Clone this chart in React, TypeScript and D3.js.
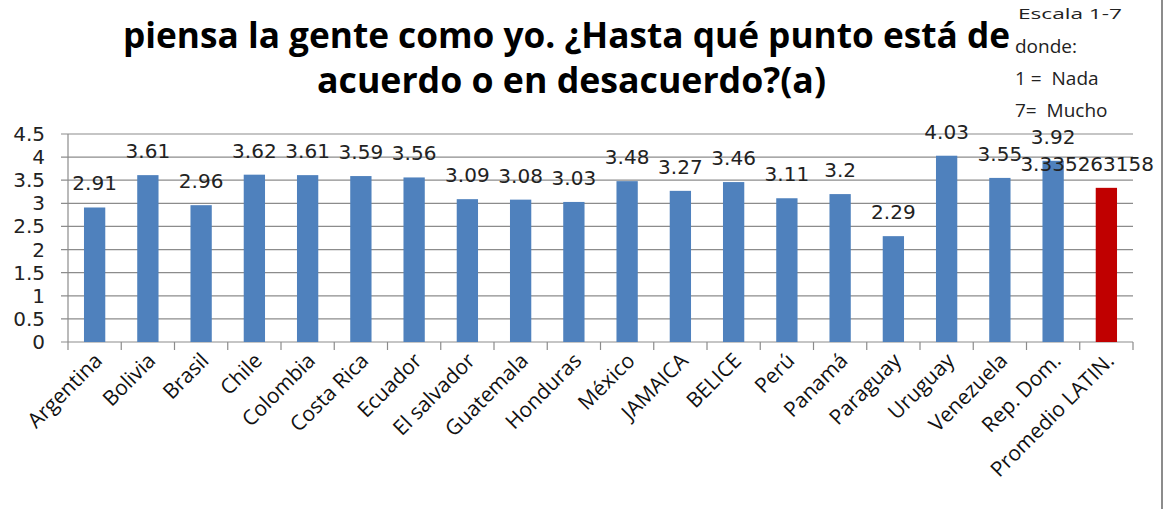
import React from 'react';
import * as d3 from 'd3';

const countries = ['Argentina', 'Bolivia', 'Brasil', 'Chile', 'Colombia', 'Costa Rica', 'Ecuador', 'El salvador', 'Guatemala', 'Honduras', 'México', 'JAMAICA', 'BELICE', 'Perú', 'Panamá', 'Paraguay', 'Uruguay', 'Venezuela', 'Rep. Dom.', 'Promedio LATIN.']
const values = [2.91, 3.61, 2.96, 3.62, 3.61, 3.59, 3.56, 3.09, 3.08, 3.03, 3.48, 3.27, 3.46, 3.11, 3.2, 2.29, 4.03, 3.55, 3.92, 3.335263158]
const yTicks = [0, 0.5, 1, 1.5, 2, 2.5, 3, 3.5, 4, 4.5]
const titleLines = ['piensa la gente como yo. ¿Hasta qué punto está de', 'acuerdo o en desacuerdo?(a)']
const noteLines = ['donde:', '1 =  Nada', '7=  Mucho']

const W = 1167, H = 509
const plot = {left: 68, right: 1133, top: 134, bottom: 342}

const App = () => {
  const x = d3.scaleBand<string>()
    .domain(countries)
    .range([plot.left, plot.right])
    .paddingInner(0.6)
    .paddingOuter(0.3)

  const y = d3.scaleLinear()
    .domain([0, 4.5])
    .range([plot.bottom, plot.top])

  const step = (plot.right - plot.left) / countries.length
  const tickXs = d3.range(countries.length + 1).map(i => plot.left + i * step)
  const last = countries.length - 1

  return (
    <svg width={W} height={H} style={{position: 'absolute', left: 0, top: 0, background: '#fff'}}>
      {/* title */}
      <g fontFamily="'Open Sans', sans-serif" fontWeight="bold" fontSize={35} fill="#000">
        <text x={123} y={48} textLength={887} lengthAdjust="spacingAndGlyphs">{titleLines[0]}</text>
        <text x={317} y={93} textLength={509} lengthAdjust="spacingAndGlyphs">{titleLines[1]}</text>
      </g>

      {/* scale note */}
      <g fontFamily="'Open Sans', sans-serif" fill="#222">
        <text x={1018} y={19} fontSize={15} textLength={104} lengthAdjust="spacingAndGlyphs">Escala 1-7</text>
        {noteLines.map((t, i) => (
          <text key={t} x={1015} y={53 + i * 32} fontSize={19} xmlSpace="preserve">{t}</text>
        ))}
      </g>

      {/* gridlines */}
      <g stroke="#8c8c8c" strokeWidth={1.2}>
        {yTicks.map(t => (
          <line key={t} x1={plot.left - 7} x2={plot.right} y1={y(t)} y2={y(t)} />
        ))}
        <line x1={plot.left} x2={plot.left} y1={plot.top} y2={plot.bottom} />
        {tickXs.map((tx, i) => (
          <line key={i} x1={tx} x2={tx} y1={plot.bottom} y2={plot.bottom + 8} />
        ))}
      </g>

      {/* y labels */}
      <g fontFamily="'DejaVu Sans', sans-serif" fontSize={20} fill="#222" textAnchor="end">
        {yTicks.map(t => (
          <text key={t} x={45} y={y(t) + 7}>{t}</text>
        ))}
      </g>

      {/* bars */}
      <g>
        {values.map((v, i) => (
          <rect key={countries[i]} x={x(countries[i])} y={y(v)} width={x.bandwidth()} height={plot.bottom - y(v)}
            fill={i === last ? '#c00000' : '#4f81bd'} />
        ))}
      </g>

      {/* value labels */}
      <g fontFamily="'DejaVu Sans', sans-serif" fontSize={20} fill="#222">
        {values.map((v, i) => {
          const cx = (x(countries[i]) as number) + x.bandwidth() / 2
          return i === last
            ? <text key={i} x={1154} y={y(v) - 17} textAnchor="end">{String(v)}</text>
            : <text key={i} x={cx} y={y(v) - 17} textAnchor="middle">{String(v)}</text>
        })}
      </g>

      {/* x labels */}
      <g fontFamily="'Open Sans', sans-serif" fontSize={21} fill="#111" textAnchor="end">
        {countries.map(c => {
          const cx = (x(c) as number) + x.bandwidth() / 2 + 9
          return <text key={c} transform={`translate(${cx},${362}) rotate(-45)`}>{c}</text>
        })}
      </g>

      {/* chart border */}
      <line x1={1162} x2={1162} y1={0} y2={H} stroke="#8c8c8c" strokeWidth={2} />
    </svg>
  )
}

export default App
